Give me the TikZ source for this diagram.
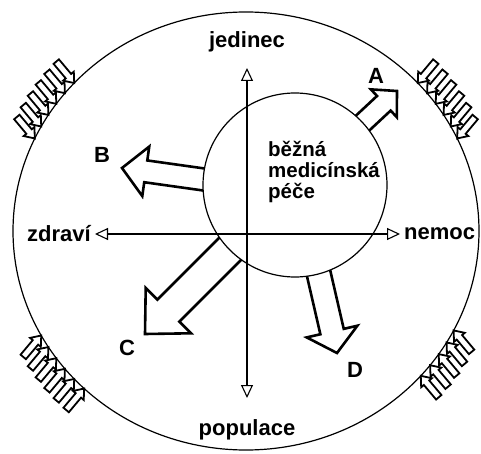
\documentclass[tikz,border=0pt]{standalone}
\usepackage{fontspec}
\setmainfont{Liberation Sans}
\usetikzlibrary{arrows.meta}
\tikzset{
  lbl/.style={font=\bfseries\fontsize{22}{22}\selectfont, inner sep=0pt},
  inlbl/.style={font=\bfseries\fontsize{20.5}{21}\selectfont, inner sep=0pt, align=left},
  axis/.style={line width=2.6pt, {Triangle[open,length=13pt,width=12pt,line width=1.1pt]}-{Triangle[open,length=13pt,width=12pt,line width=1.1pt]}},
  blk/.style={line width=2.6pt, line join=miter},
  sml/.style={line width=1.8pt, line join=miter},
  ring/.style={line width=1.2pt},
  pics/bigarr/.style n args={4}{code={\draw[blk] (0,0) -- (-#3,#4) -- (-#3,#2) -- (-#1,#2) -- (-#1,-#2) -- (-#3,-#2) -- (-#3,-#4) -- cycle;}},
  pics/smallarr/.style={code={\draw[sml] (0,0) -- (-9,7) -- (-9,3.5) -- (-28,3.5) -- (-28,-3.5) -- (-9,-3.5) -- (-9,-7) -- cycle;}}
}
\begin{document}
\begin{tikzpicture}[x=1pt,y=-1pt]
\useasboundingbox (0,0) rectangle (481,454);
% big circle and small circle
\coordinate (bigc) at (246,231);
\coordinate (smc) at (295,185);
\draw[ring] (bigc) ellipse[x radius=233pt, y radius=219pt];
\draw[ring] (smc) circle[radius=92pt];
% corner arrow groups
\foreach \t in {137.5,141,...,155.5} \pic[rotate=-50] at ({246+233*cos(\t)},{231-219*sin(\t)}) {smallarr};
\foreach \t in {25,28.5,...,43} \pic[rotate=-130] at ({246+233*cos(\t)},{231-219*sin(\t)}) {smallarr};
\foreach \t in {208.5,212,...,226.5} \pic[rotate=50] at ({246+233*cos(\t)},{231-219*sin(\t)}) {smallarr};
\foreach \t in {-27,-30.6,...,-45} \pic[rotate=130] at ({246+233*cos(\t)},{231-219*sin(\t)}) {smallarr};
% big block arrows, clipped outside the small circle
\begin{scope}[even odd rule]
\clip (0,0) rectangle (481,454) (smc) circle[radius=92pt];
\pic[rotate=43] at (397,91) {bigarr={50}{10}{18}{19}};
\pic[rotate=172] at (122,168) {bigarr={95}{11}{24}{25}};
\pic[rotate=-135] at (145,334) {bigarr={130}{15.5}{33}{32}};
\pic[rotate=-77] at (337,353) {bigarr={95}{12}{22}{26}};
\end{scope}
% axes
\coordinate (vt) at (247,68);
\coordinate (vb) at (247,398);
\coordinate (hl) at (95,234);
\coordinate (hr) at (400,234);
\draw[axis] (vb) -- (vt);
\draw[axis] (hl) -- (hr);
% labels
\node[lbl] (jed) at (247,42) {jedinec};
\node[lbl] (pop) at (247,430) {populace};
\node[lbl, anchor=east] (zdr) at (91,234) {zdraví};
\node[lbl, anchor=west] (nem) at (404,234) {nemoc};
\node[inlbl, anchor=north west] (bmp) at (268,141) {běžná\\medicínská\\péče};
\node[lbl] (la) at (376,76) {A};
\node[lbl] (lb) at (102,155) {B};
\node[lbl] (lc) at (127,348) {C};
\node[lbl] (ld) at (355,370) {D};
\end{tikzpicture}
\end{document}
